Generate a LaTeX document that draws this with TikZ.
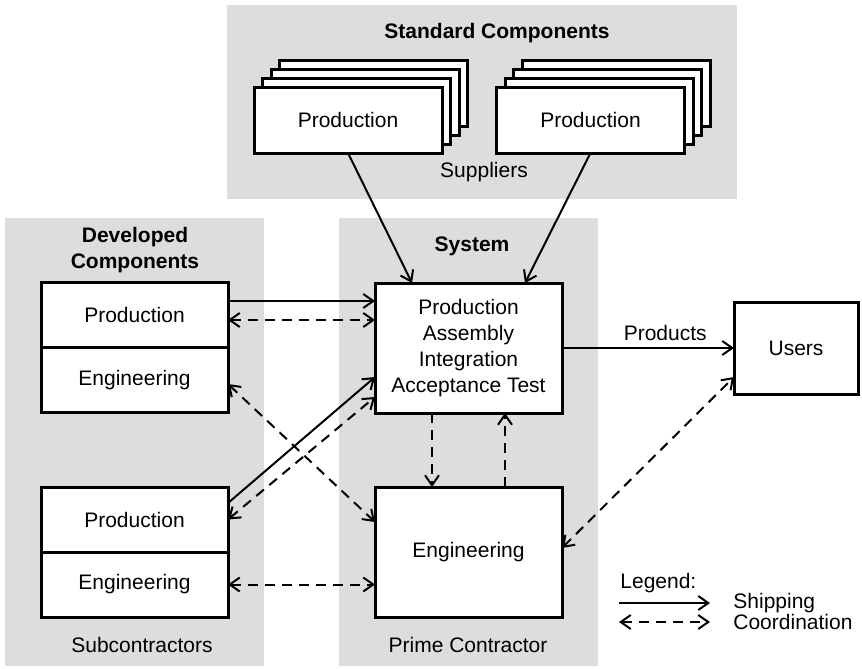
\documentclass[tikz,border=0pt]{standalone}
\usepackage{fontspec}
\setmainfont{Liberation Sans}
\usetikzlibrary{arrows.meta,calc}
\definecolor{panelgray}{RGB}{220,221,223}

\begin{document}
\begin{tikzpicture}[
    x=0.5pt, y=-0.5pt,
    font=\fontsize{10.5}{13}\selectfont,
    panel/.style={fill=panelgray, draw=none},
    box/.style={
        rectangle, draw, line width=1.5pt, fill=white,
        align=center, minimum width=93.5pt,
        inner sep=0pt, outer sep=0pt
    },
    sheet/.style={draw, line width=1.5pt, fill=white},
    header/.style={font=\fontsize{10.5}{13}\selectfont\bfseries, align=center},
    tip/.tip={Straight Barb[length=5pt, width=7pt]},
    ship/.style={-tip, line width=1pt},
    coord/.style={tip-tip, line width=1pt, dash pattern=on 5pt off 3.5pt},
    coordone/.style={-tip, line width=1pt, dash pattern=on 5pt off 3.5pt},
]

    \useasboundingbox (0,0) rectangle (862,669);

    % Column x-coordinates (px, y grows downward).
    \def\xSub{134.5}
    \def\xPrime{468.5}

    % ---------- Gray panels ----------
    \fill[panel] (227,5) rectangle (737,199);
    \fill[panel] (5,218) rectangle (264,666);
    \fill[panel] (339,218) rectangle (598,666);

    % ---------- Suppliers (stacked sheets) ----------
    \foreach \sx in {254,496.5}
        \foreach \k in {3,2,1}
            \draw[sheet] ({\sx+8.5*\k},{87-9*\k}) rectangle ++(188,66);

    \node[box, minimum width=94pt, minimum height=33pt] (supa) at (348,120) {Production};
    \node[box, minimum width=94pt, minimum height=33pt] (supb) at (590.5,120) {Production};

    \node[header] (std-header) at (497,33) {Standard Components};
    \node (suppliers) at (484,172) {Suppliers};

    % ---------- Developed components / subcontractors ----------
    \node[box, minimum height=32.5pt] (devprod) at (\xSub,315) {Production};
    \node[box, minimum height=32.5pt] (deveng) at (\xSub,380) {Engineering};
    \node[box, minimum height=32.5pt] (subprod) at (\xSub,519.5) {Production};
    \node[box, minimum height=32.5pt] (subeng) at (\xSub,584.5) {Engineering};

    \node[header] (dev-header) at (135,250) {Developed\\Components};
    \node (subcontractors) at (142,645) {Subcontractors};

    % ---------- System / prime contractor ----------
    \node[box, minimum height=65pt] (sysprod) at (\xPrime,348)
        {Production\\Assembly\\Integration\\Acceptance Test};
    \node[box, minimum height=65pt] (primeeng) at (\xPrime,552) {Engineering};

    \node[header] (sys-header) at (472,246) {System};
    \node (prime) at (468,645) {Prime Contractor};

    % ---------- Users ----------
    \node[box, minimum width=62pt, minimum height=46pt] (users) at (796,348) {Users};

    % ---------- Connectors ----------
    \draw[ship] (supa.south) -- ($(sysprod.north)+(-56.5,0)$);
    \draw[ship] (supb.south) -- ($(sysprod.north)+(56.5,0)$);

    \draw[ship] ($(devprod.east)+(0,-14)$) -- ($(sysprod.west)+(0,-47)$);
    \draw[coord] ($(devprod.east)+(0,5)$) -- ($(sysprod.west)+(0,-28)$);
    \draw[coord] ($(deveng.east)+(0,4)$) -- ($(primeeng.west)+(0,-30)$);
    \draw[ship] ($(subprod.east)+(0,-16.5)$) -- ($(sysprod.west)+(0,29)$);
    \draw[coord] (subprod.east) -- ($(sysprod.west)+(0,49)$);
    \draw[coord] (subeng.east) -- (subeng.east -| primeeng.west);

    \draw[coordone] ($(sysprod.south)+(-36.5,0)$) -- ($(primeeng.north)+(-36.5,0)$);
    \draw[coordone] ($(primeeng.north)+(36.5,0)$) -- ($(sysprod.south)+(36.5,0)$);

    \draw[ship] (sysprod.east) -- node[above, pos=0.6] (products) {Products} (users.west);
    \draw[coord] ($(primeeng.east)+(0,-4)$) -- ($(users.west)+(0,29)$);

    % ---------- Legend ----------
    \node[anchor=west, inner sep=0pt] (legend-title) at (620,583) {Legend:};
    \coordinate (ship-a) at (619,603);
    \coordinate (ship-b) at (710,603);
    \coordinate (coord-a) at (619,622);
    \coordinate (coord-b) at (710,622);
    \draw[ship] (ship-a) -- (ship-b);
    \draw[coord] (coord-a) -- (coord-b);
    \node[anchor=west, inner sep=0pt] (ship-label) at (733,603) {Shipping};
    \node[anchor=west, inner sep=0pt] (coord-label) at (733,622) {Coordination};

\end{tikzpicture}
\end{document}
